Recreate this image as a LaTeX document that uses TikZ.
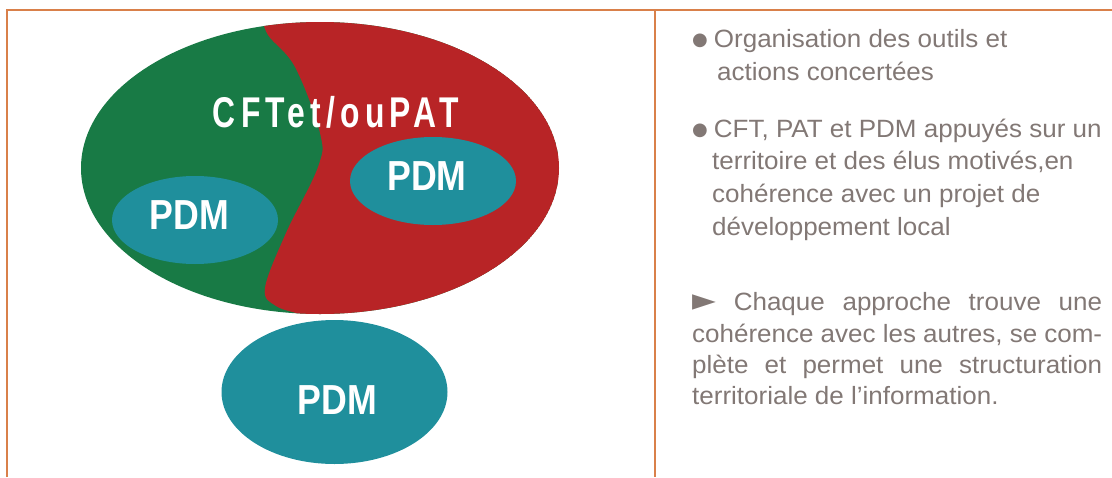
\documentclass[tikz,border=0pt]{standalone}
\usepackage{fontspec}
\setmainfont[FakeStretch=1.04]{Liberation Sans}
\newfontfamily\symf{DejaVu Sans}
\newfontfamily\pdmfont[FakeStretch=0.85]{Liberation Sans Bold}
\newfontfamily\cftfont[FakeStretch=0.74,LetterSpace=12]{Liberation Sans Bold}
\usetikzlibrary{shapes.geometric}
\definecolor{frameorange}{RGB}{217,128,74}
\definecolor{cftgreen}{RGB}{24,122,69}
\definecolor{patred}{RGB}{184,36,38}
\definecolor{pdmteal}{RGB}{31,143,156}
\definecolor{txtgray}{RGB}{130,120,117}
\newcommand{\bul}{{\symf\fontsize{18}{18}\selectfont\raisebox{2pt}{●}}}
\newcommand{\tri}{{\symf\fontsize{31}{31}\selectfont ►}}
\begin{document}
\begin{tikzpicture}[x=1pt,y=-1pt,
  frame/.style={draw=frameorange,line width=2.5pt},
  pdmshape/.style={ellipse,fill=pdmteal,inner sep=0pt},
  pdmtext/.style={text=white,inner sep=0pt,font=\pdmfont\fontsize{42}{42}\selectfont},
  bodyline/.style={anchor=base west,inner sep=0pt,text=txtgray,font=\fontsize{25}{29}\selectfont}]
\useasboundingbox (0,0) rectangle (1112,477);
% frame
\draw[frame] (7,477) -- (7,10) -- (1112,10);
\draw[frame] (655,10) -- (655,477);
% big ellipse
\begin{scope}
  \clip (320,168) ellipse [x radius=239, y radius=146];
  \fill[cftgreen] (320,168) ellipse [x radius=239, y radius=146];
  \fill[patred] (262,0) -- plot[smooth,tension=0.6] coordinates {(262,15) (268,35) (295,67) (320,133) (318,167) (286,233) (265,288) (276,306) (305,316) (330,330)} -- (600,330) -- (600,0) -- cycle;
\end{scope}
\node[inner sep=0pt,text=white,font=\cftfont\fontsize{43}{43}\selectfont] (cft) at (336,112.5) {CFTet/ouPAT};
% PDM ellipses
\node[pdmshape,minimum width=166pt,minimum height=88pt] (pdmA) at (195,220) {};
\node[pdmtext] (pdmAt) at (189.5,215) {PDM};
\node[pdmshape,minimum width=166pt,minimum height=88pt] (pdmB) at (433,181) {};
\node[pdmtext] (pdmBt) at (427,176.5) {PDM};
\node[pdmshape,minimum width=226pt,minimum height=144pt] (pdmC) at (334.5,392) {};
\node[pdmtext] (pdmCt) at (337.5,400) {PDM};
% right text
\node[bodyline] (l1) at (692,47) {\bul\hspace{6pt}Organisation des outils et};
\node[bodyline] (l2) at (717,80) {actions concertées};
\node[bodyline] (l3) at (692,137) {\bul\hspace{6pt}CFT, PAT et PDM appuyés sur un};
\node[bodyline] (l4) at (712,169) {territoire et des élus motivés,en};
\node[bodyline] (l5) at (712,202) {cohérence avec un projet de};
\node[bodyline] (l6) at (712,235) {développement local};
\node[bodyline] (l7) at (692,310) {\makebox[410pt][s]{\tri\ Chaque approche trouve une}};
\node[bodyline] (l8) at (692,342) {\makebox[410pt][s]{cohérence avec les autres, se com-}};
\node[bodyline] (l9) at (692,373) {\makebox[410pt][s]{plète et permet une structuration}};
\node[bodyline] (l10) at (692,404) {territoriale de l’information.};
\end{tikzpicture}
\end{document}
